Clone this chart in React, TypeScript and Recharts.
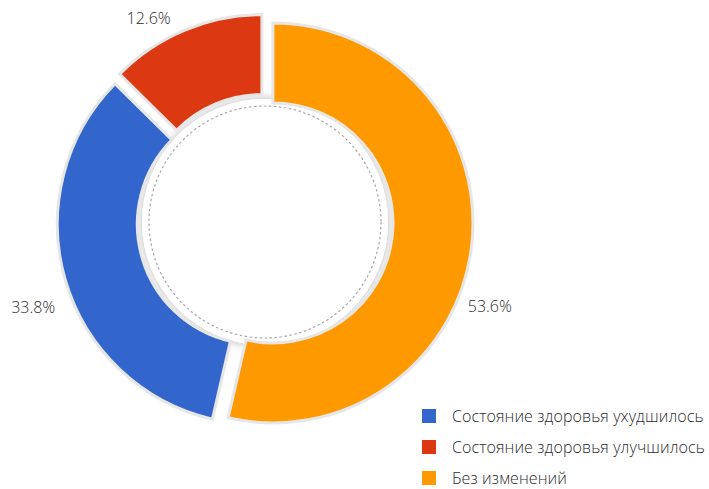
import { Cell, Customized, Legend, Pie, PieChart, Sector } from 'recharts'

const CATEGORIES = ['Без изменений', 'Состояние здоровья ухудшилось', 'Состояние здоровья улучшилось']
const VALUES = [53.6, 33.8, 12.6]
const COLORS = ['#ff9900', '#3366cc', '#dc3912']
const LEGEND_ORDER = [1, 2, 0]

// layout tweaks
const CX = 265
const CY = 222
const OUTER = 200
const INNER = 120
const EXPLODE = 8
const LABEL_RADIUS = [240, 247, 235]
const LABEL_ANGLE_SHIFT = [-14, 4, 7]
const RAD = Math.PI / 180
const FONT = '"Open Sans", sans-serif'

const data = CATEGORIES.map((name, i) => ({ name, value: VALUES[i] }))

function ExplodedSector(props: any) {
  const mid = props.midAngle ?? 0
  const dx = EXPLODE * Math.cos(mid * RAD)
  const dy = -EXPLODE * Math.sin(mid * RAD)
  return <Sector {...props} cx={props.cx + dx} cy={props.cy + dy} />
}

function renderLabel(props: any) {
  const { cx, cy, midAngle, index, value } = props
  const angle = (midAngle + LABEL_ANGLE_SHIFT[index]) * RAD
  const x = cx + LABEL_RADIUS[index] * Math.cos(angle)
  const y = cy - LABEL_RADIUS[index] * Math.sin(angle)
  return (
    <text
      x={x}
      y={y}
      textAnchor="middle"
      dominantBaseline="central"
      fill="#2b2b2b"
      fontSize={16}
      fontWeight={300}
      fontFamily={FONT}
    >
      {`${Number(value).toFixed(1)}%`}
    </text>
  )
}

function InnerDisc() {
  return (
    <g>
      <defs>
        <filter id="discShadow" x="-20%" y="-20%" width="140%" height="140%">
          <feDropShadow dx="0" dy="0" stdDeviation="5" floodColor="#000" floodOpacity="0.3" />
        </filter>
      </defs>
      <circle cx={CX} cy={CY} r={123} fill="#fff" filter="url(#discShadow)" />
      <circle cx={CX} cy={CY} r={116} fill="none" stroke="#a8a8a8" strokeWidth={1.2} strokeDasharray="2.5 2.5" />
    </g>
  )
}

function LegendContent() {
  return (
    <div style={{ fontFamily: FONT, fontSize: 16, fontWeight: 300, letterSpacing: 0.1, color: '#2b2b2b' }}>
      {LEGEND_ORDER.map((i) => (
        <div key={i} style={{ display: 'flex', alignItems: 'center', height: 31, whiteSpace: 'nowrap' }}>
          <span style={{ width: 14, height: 14, background: COLORS[i], marginRight: 16, display: 'inline-block', flexShrink: 0 }} />
          <span>{CATEGORIES[i]}</span>
        </div>
      ))}
    </div>
  )
}

export default function App() {
  return (
    <div style={{ position: 'absolute', left: 0, top: 0, width: 709, height: 489, background: '#fff' }}>
      <PieChart width={709} height={489} margin={{ top: 0, right: 0, bottom: 0, left: 0 }}>
        <Pie
          data={data}
          dataKey="value"
          nameKey="name"
          cx={CX}
          cy={CY}
          outerRadius={OUTER}
          innerRadius={INNER}
          startAngle={90}
          endAngle={-270}
          stroke="#e6e6e6"
          strokeWidth={3}
          shape={ExplodedSector}
          label={renderLabel}
          labelLine={false}
          isAnimationActive={false}
        >
          {data.map((d, i) => (
            <Cell key={d.name} fill={COLORS[i]} />
          ))}
        </Pie>
        <Customized component={<InnerDisc />} />
        <Legend
          content={<LegendContent />}
          layout="vertical"
          wrapperStyle={{ position: 'absolute', left: 422, top: 400, width: 290 }}
        />
      </PieChart>
    </div>
  )
}
